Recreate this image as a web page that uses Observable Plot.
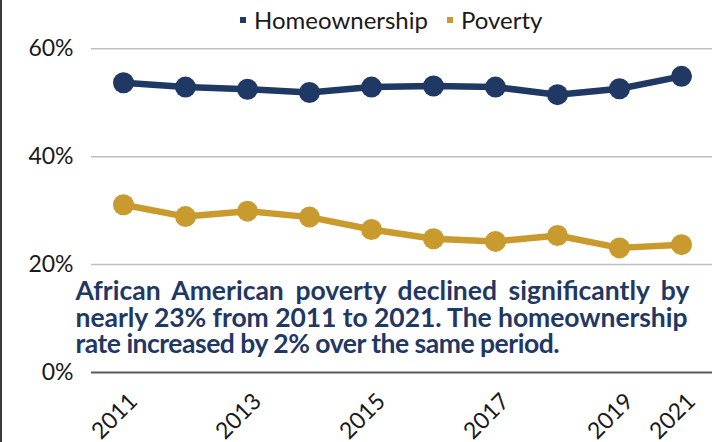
<!DOCTYPE html>
<html><head><meta charset="utf-8">
<script src="https://cdn.jsdelivr.net/npm/d3@7"></script>
<script src="https://cdn.jsdelivr.net/npm/@observablehq/plot@0.6"></script>
<style>
body{margin:0;background:#fff;font-family:Lato,"Open Sans",sans-serif;}
#wrap{position:relative;width:715px;height:442px;overflow:hidden;}
#edge{position:absolute;left:0;top:0;width:2px;height:442px;background:#3a3a3a;z-index:2;}
#legend{height:34px;position:relative;font-size:24px;color:#1a1a1a;}
.item{position:absolute;top:3px;height:34px;line-height:34px;display:flex;align-items:center;white-space:nowrap;}
.sw{width:6px;height:6px;margin-right:8px;}
#chart svg{display:block;}
</style></head>
<body><div id="wrap"><div id="edge"></div><div id="legend"></div><div id="chart"></div></div>
<script>
const years = ["2011","2012","2013","2014","2015","2016","2017","2018","2019","2021"];
const homeownership = [53.7, 52.9, 52.5, 51.9, 52.9, 53.1, 52.9, 51.5, 52.6, 54.9];
const poverty = [31.1, 28.9, 29.9, 28.8, 26.5, 24.8, 24.3, 25.4, 23.1, 23.7];
const seriesNames = ["Homeownership", "Poverty"];
const seriesColors = ["#1f3864", "#c99a2e"];
const xTickLabels = ["2011", "2013", "2015", "2017", "2019", "2021"];
const yTicks = [0, 20, 40, 60];
const noteLines = [
  "African American poverty declined significantly by",
  "nearly 23% from 2011 to 2021. The homeownership",
  "rate increased by 2% over the same period."
];

// layout constants (not data)
const noteWidths = [614, 612, 484];
const legendLeft = [240, 447];

const rows = years.flatMap((yr, i) => [
  {year: yr, series: seriesNames[0], value: homeownership[i]},
  {year: yr, series: seriesNames[1], value: poverty[i]}
]);

// legend
const legend = document.getElementById("legend");
seriesNames.forEach((name, i) => {
  const it = document.createElement("div");
  it.className = "item";
  it.style.left = legendLeft[i] + "px";
  const sw = document.createElement("span");
  sw.className = "sw";
  sw.style.background = seriesColors[i];
  const tx = document.createElement("span");
  tx.textContent = name;
  it.appendChild(sw); it.appendChild(tx);
  legend.appendChild(it);
});

const plot = Plot.plot({
  width: 715,
  height: 408,
  marginLeft: 91,
  marginRight: 3,
  marginTop: 14.3,
  marginBottom: 70,
  style: {fontFamily: "Lato, sans-serif", fontSize: "23px", color: "#1a1a1a", background: "transparent", overflow: "visible"},
  x: {type: "point", domain: years, padding: 0.5, label: null},
  y: {domain: [0, 60], label: null},
  color: {domain: seriesNames, range: seriesColors},
  marks: [
    Plot.ruleY([20, 40, 60], {stroke: "#bfbfbf", strokeWidth: 1.5}),
    Plot.ruleY([0], {stroke: "#595959", strokeWidth: 2}),
    Plot.axisY({ticks: yTicks, tickFormat: d => d + "%", tickSize: 0, tickPadding: 18, label: null, fontSize: 23}),
    Plot.axisX({ticks: xTickLabels, tickRotate: -45, tickSize: 0, tickPadding: 25, dx: 10, label: null, fontSize: 23}),
    Plot.line(rows, {x: "year", y: "value", z: "series", stroke: "series", strokeWidth: 6.5}),
    Plot.dot(rows, {x: "year", y: "value", fill: "series", r: 10.5}),
    ...noteLines.map((line, i) => Plot.text([line], {
      text: d => d, frameAnchor: "top-left", textAnchor: "start", lineAnchor: "middle",
      dx: -16, dy: 243 + i * 26.5, fill: "#1f3864", fontSize: 26.5, fontWeight: "bold"
    }))
  ]
});
document.getElementById("chart").appendChild(plot);

// fit each annotation line to its measured width (justified look)
d3.select(plot).selectAll('g[aria-label="text"] text').each(function(d, i) {
  const target = noteWidths[i];
  if (target == null) return;
  const natural = this.getComputedTextLength();
  const txt = this.textContent;
  const spaces = (txt.match(/ /g) || []).length;
  if (target > natural && spaces) {
    this.style.wordSpacing = ((target - natural) / spaces) + "px";
  } else {
    this.style.letterSpacing = ((target - natural) / (txt.length - 1)) + "px";
  }
});
</script>
</body></html>
